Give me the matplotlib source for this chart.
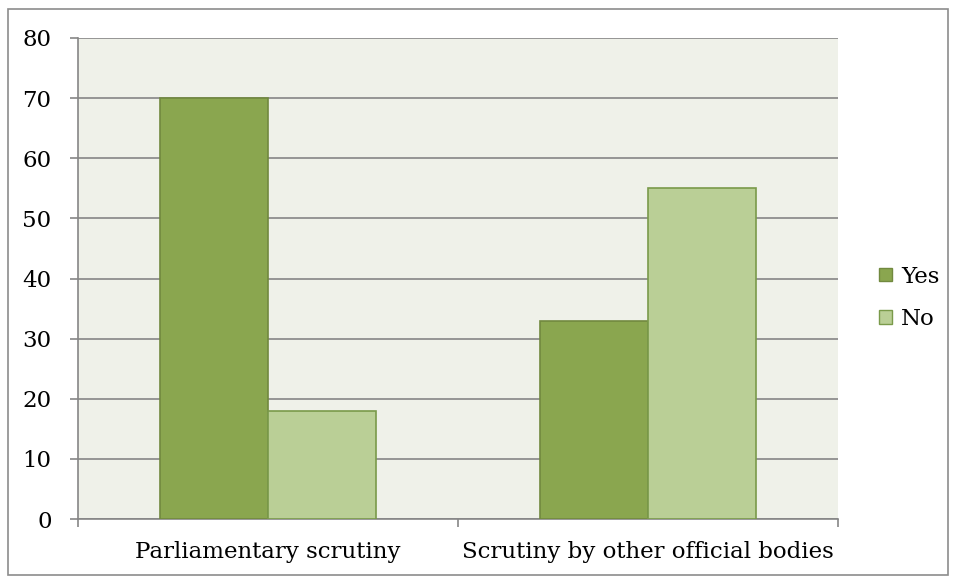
import matplotlib.pyplot as plt
from matplotlib.patches import Rectangle, Patch
import numpy as np

categories = ["Parliamentary scrutiny", "Scrutiny by other official bodies"]
yes_values = [70, 33]
no_values = [18, 55]
y_ticks = [0, 10, 20, 30, 40, 50, 60, 70, 80]

plt.rcParams['font.family'] = ['DejaVu Serif']
FS = 16.5

fig = plt.figure(figsize=(9.55, 5.81), dpi=100)
fig.patches.append(Rectangle((8 / 955, 6 / 581), 940 / 955, 566 / 581,
                             transform=fig.transFigure, fill=False,
                             edgecolor="#8c8c8c", linewidth=1.2))

ax = fig.add_axes([78 / 955, 1 - 519 / 581, 760 / 955, 481 / 581])
ax.set_facecolor("#eff1e9")

x = np.arange(len(categories))
w = 0.284
ax.bar(x - w / 2, yes_values, w, color="#8aa64f", edgecolor="#71893f",
       linewidth=1.2, label="Yes", zorder=3)
ax.bar(x + w / 2, no_values, w, color="#bacf96", edgecolor="#7a9a4a",
       linewidth=1.2, label="No", zorder=3)

ax.set_xlim(-0.5, 1.5)
ax.set_ylim(0, 80)
ax.set_yticks(y_ticks)
ax.yaxis.grid(True, color="#868686", linewidth=1.2, zorder=1)
ax.set_axisbelow(True)

ax.set_xticks([-0.5, 0.5, 1.5])
ax.set_xticklabels([])
ax.set_xticks(x, minor=True)
ax.set_xticklabels(categories, minor=True)
ax.tick_params(axis="x", which="minor", length=0, pad=16, labelsize=FS)
ax.tick_params(axis="x", which="major", length=6, width=1.2, color="#868686")
ax.tick_params(axis="y", length=6, width=1.2, color="#868686", labelsize=FS, pad=13)

for s in ["top", "right"]:
    ax.spines[s].set_visible(False)
for s in ["left", "bottom"]:
    ax.spines[s].set_color("#868686")
    ax.spines[s].set_linewidth(1.2)

handles = [Patch(facecolor="#8aa64f", edgecolor="#71893f", label="Yes"),
           Patch(facecolor="#bacf96", edgecolor="#7a9a4a", label="No")]
fig.legend(handles=handles, loc="center left", bbox_to_anchor=(879 / 955, 1 - 298 / 581),
           frameon=False, fontsize=FS, handlelength=0.55, handleheight=0.55,
           handletextpad=0.4, labelspacing=0.9, borderpad=0, borderaxespad=0)

plt.savefig("out.png", dpi=100)
